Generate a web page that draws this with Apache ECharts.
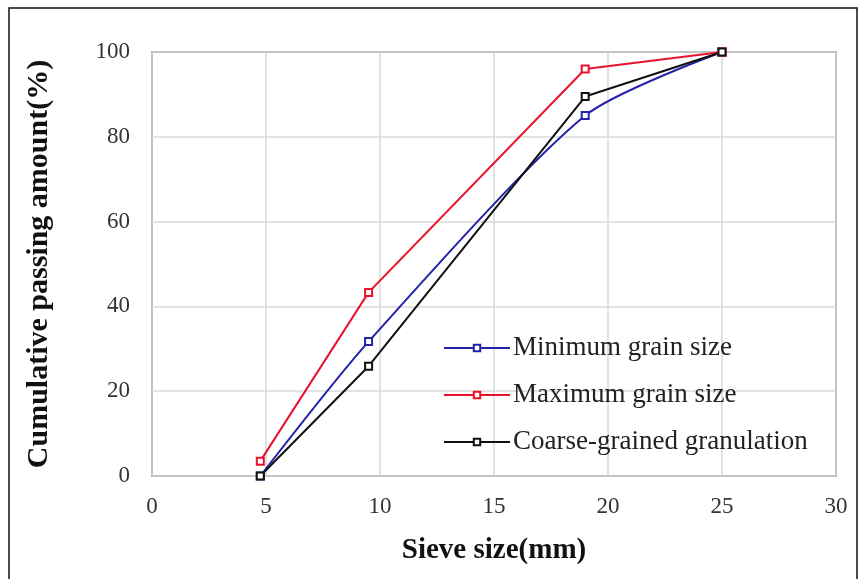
<!DOCTYPE html>
<html>
<head>
<meta charset="utf-8">
<script src="https://cdn.jsdelivr.net/npm/echarts@6/dist/echarts.min.js"></script>
<style>
  html, body { margin: 0; padding: 0; background: #fff; }
  #chart { width: 864px; height: 579px; }
</style>
</head>
<body>
<div id="chart"></div>
<script>
// sieve sizes (mm) and cumulative passing (%)
var sieveSizes = [4.75, 9.5, 19, 25];
var minGrain = [0, 31.7, 85, 100];
var maxGrain = [3.5, 43.3, 96, 100];
var coarseGrain = [0, 25.9, 89.5, 100];
var seriesNames = ['Minimum grain size', 'Maximum grain size', 'Coarse-grained granulation'];

function pairs(ys) {
  return sieveSizes.map(function (x, i) { return [x, ys[i]]; });
}

var chart = echarts.init(document.getElementById('chart'));
var serif = '"Liberation Serif", "Times New Roman", serif';

function lineSeries(name, color, ys, smooth) {
  return {
    name: name,
    type: 'line',
    data: pairs(ys),
    smooth: smooth,
    symbol: 'emptyRect',
    symbolSize: 7,
    lineStyle: { color: color, width: 2 },
    itemStyle: { color: color, borderColor: color, borderWidth: 2 }
  };
}

var option = {
  backgroundColor: '#fff',
  animation: false,
  graphic: [{
    type: 'rect',
    shape: { x: 9, y: 8, width: 848, height: 590 },
    style: { fill: 'none', stroke: '#111', lineWidth: 1.5 }
  }],
  grid: {
    left: 152, top: 52, right: 28, bottom: 103,
    show: true, borderColor: '#595959', borderWidth: 1.5
  },
  legend: {
    orient: 'vertical',
    left: 438, top: 329,
    itemWidth: 66, itemHeight: 8,
    itemGap: 19,
    data: seriesNames,
    textStyle: { fontFamily: serif, fontSize: 27, lineHeight: 28, color: '#222', padding: [0, 0, 0, -2] }
  },
  xAxis: {
    type: 'value',
    min: 0, max: 30, interval: 5,
    name: 'Sieve size(mm)',
    nameLocation: 'middle',
    nameGap: 60,
    nameTextStyle: { fontFamily: serif, fontSize: 29, fontWeight: 'bold', color: '#111' },
    axisLine: { show: false },
    axisTick: { show: false },
    axisLabel: { fontFamily: serif, fontSize: 23, color: '#333', margin: 19 },
    splitLine: { lineStyle: { color: '#d9d9d9', width: 1.5 } }
  },
  yAxis: {
    type: 'value',
    min: 0, max: 100, interval: 20,
    name: 'Cumulative passing amount(%)',
    nameLocation: 'middle',
    nameGap: 98,
    nameTextStyle: { fontFamily: serif, fontSize: 30, fontWeight: 'bold', color: '#111' },
    axisLine: { show: false },
    axisTick: { show: false },
    axisLabel: { fontFamily: serif, fontSize: 23, color: '#333', margin: 22 },
    splitLine: { lineStyle: { color: '#d9d9d9', width: 1.5 } }
  },
  series: [
    lineSeries(seriesNames[0], '#2222aa', minGrain, 0.25),
    lineSeries(seriesNames[1], '#e8122a', maxGrain, false),
    lineSeries(seriesNames[2], '#111111', coarseGrain, false)
  ]
};

chart.setOption(option);
</script>
</body>
</html>
